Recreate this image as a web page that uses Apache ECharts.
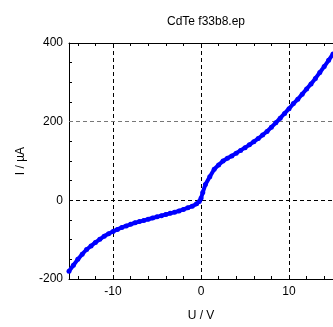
<!DOCTYPE html>
<html>
<head>
<meta charset="utf-8">
<script src="https://cdn.jsdelivr.net/npm/echarts@6/dist/echarts.min.js"></script>
<style>html,body{margin:0;padding:0;background:#fff}#c{width:333px;height:327px}</style>
</head>
<body>
<div id="c"></div>
<script>
var titleText = 'CdTe f33b8.ep';
var xName = 'U / V';
var yName = 'I / µA';
var voltage = [-15.0,-14.5,-14.0,-13.5,-13.0,-12.5,-12.0,-11.5,-11.0,-10.5,-10.0,-9.5,-9.0,-8.5,-8.0,-7.5,-7.0,-6.5,-6.0,-5.5,-5.0,-4.5,-4.0,-3.5,-3.0,-2.5,-2.0,-1.5,-1.0,-0.5,-0.2,0.0,0.2,0.5,1.0,1.5,2.0,2.5,3.0,3.5,4.0,4.5,5.0,5.5,6.0,6.5,7.0,7.5,8.0,8.5,9.0,9.5,10.0,10.5,11.0,11.5,12.0,12.5,13.0,13.5,14.0,14.5,15.0];
var current = [-180,-165,-150,-137,-125,-116,-107,-99,-91,-85,-79,-74,-69,-65,-61,-57,-54,-51,-48,-45,-42,-39,-36,-33,-30,-27,-23,-19,-15,-9,-3,5,20,40,60,79,90,100,107,113,120,127,134,141,149,157,166,175,186,197,209,221,233,246,257,270,283,296,310,325,340,356,372];
var xTickValues = [-14,-12,-10,-8,-6,-4,-2,0,2,4,6,8,10,12,14];
var xLabelValues = [-10,0,10];
var xGridValues = [-10,0,10];
var yGridValues = [0,200];

var font = 'Liberation Sans, Arial, sans-serif';
var chart = echarts.init(document.getElementById('c'));
var pts = voltage.map(function(v,i){return [v,current[i]];});
var gridLines = xGridValues.map(function(v){return {xAxis:v, lineStyle:{color:'#000'}};})
  .concat(yGridValues.map(function(v){return {yAxis:v, lineStyle:{color: v===0?'#000':'#777'}};}));
chart.setOption({
  animation:false,
  title:{text:titleText,left:201,top:11,textAlign:'center',textStyle:{fontFamily:font,fontSize:12,fontWeight:'normal',color:'#000'}},
  grid:{left:69,right:-3,top:43,bottom:43},
  xAxis:[{
    type:'value',min:-15,max:15,position:'bottom',
    name:xName,nameLocation:'middle',nameGap:31,
    nameTextStyle:{fontFamily:font,fontSize:12,color:'#000'},
    axisLine:{show:true,onZero:false,lineStyle:{color:'#000',width:1}},
    axisTick:{show:true,inside:true,length:3,customValues:xTickValues,lineStyle:{color:'#000'}},
    axisLabel:{customValues:xLabelValues,fontFamily:font,fontSize:12,color:'#000',margin:7},
    splitLine:{show:false}
  },{
    type:'value',min:-15,max:15,position:'top',
    axisLine:{show:true,onZero:false,lineStyle:{color:'#000',width:1}},
    axisTick:{show:true,inside:true,length:3,customValues:xTickValues,lineStyle:{color:'#000'}},
    axisLabel:{show:false},
    splitLine:{show:false}
  }],
  yAxis:{
    type:'value',min:-200,max:400,interval:200,
    name:yName,nameLocation:'middle',nameGap:42,
    nameTextStyle:{fontFamily:font,fontSize:12,color:'#000'},
    axisLine:{show:true,onZero:false,lineStyle:{color:'#000',width:1}},
    axisTick:{show:true,inside:true,length:3,lineStyle:{color:'#000'}},
    minorTick:{show:true,splitNumber:4,length:3,lineStyle:{color:'#000'}},
    axisLabel:{fontFamily:font,fontSize:12,color:'#000',margin:6},
    splitLine:{show:false}
  },
  series:[{
    type:'line',data:[],z:1,
    markLine:{silent:true,symbol:'none',z:1,label:{show:false},animation:false,
      lineStyle:{type:[4,3],width:1},data:gridLines}
  },{
    type:'line',data:pts,z:3,
    symbol:'circle',symbolSize:5,showSymbol:true,
    itemStyle:{color:'#0000ff'},
    lineStyle:{color:'#0000ff',width:4}
  }]
});
</script>
</body>
</html>
